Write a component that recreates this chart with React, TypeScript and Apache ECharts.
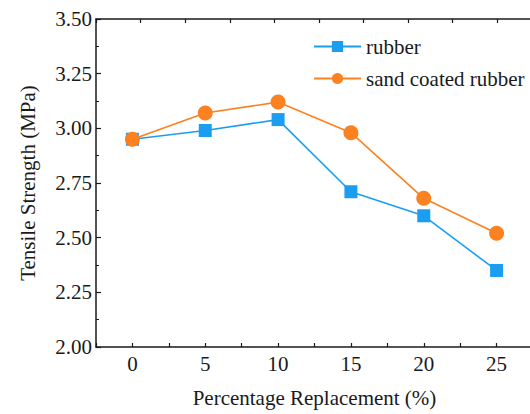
import React, { useEffect, useRef } from "react";
import * as echarts from "echarts";

const replacement = [0, 5, 10, 15, 20, 25];
const rubber = [2.95, 2.99, 3.04, 2.71, 2.6, 2.35];
const sandCoated = [2.95, 3.07, 3.12, 2.98, 2.68, 2.52];
const seriesNames = ["rubber", "sand coated rubber"];
const xTitle = "Percentage Replacement (%)";
const yTitle = "Tensile Strength (MPa)";

const FONT = "Liberation Serif, Times New Roman, serif";
const BLUE = "#1b9ef0";
const ORANGE = "#fb8121";
const INK = "#1a1a1a";

export default function App() {
  const ref = useRef<HTMLDivElement>(null);
  useEffect(() => {
    if (!ref.current) return;
    const chart = echarts.init(ref.current, undefined, { renderer: "svg" });
    const axisLine = { show: true, onZero: false, lineStyle: { color: INK, width: 1.5 } };
    chart.setOption({
      animation: false,
      backgroundColor: "#ffffff",
      textStyle: { fontFamily: FONT },
      grid: { left: 96, top: 19, right: 7, bottom: 67, containLabel: false },
      legend: {
        orient: "vertical",
        left: 313,
        top: 36,
        padding: 0,
        itemWidth: 47,
        itemHeight: 14,
        itemGap: 11,
        textStyle: { fontFamily: FONT, fontSize: 21, color: INK },
        data: seriesNames,
      },
      xAxis: [
        {
          type: "value",
          position: "bottom",
          min: -2.5,
          max: 27.5,
          interval: 2.5,
          axisLine,
          axisTick: { show: true, inside: true, length: 4, lineStyle: { color: INK, width: 1.2 } },
          splitLine: { show: false },
          axisLabel: {
            fontFamily: FONT,
            fontSize: 21,
            color: INK,
            margin: 6,
            formatter: (v: number) => (Math.abs(v % 5) < 1e-9 ? String(v) : ""),
          },
          name: xTitle,
          nameLocation: "middle",
          nameGap: 40,
          nameTextStyle: { fontFamily: FONT, fontSize: 21, color: INK },
        },
        {
          type: "value",
          position: "top",
          min: 0,
          max: 9.8,
          interval: 1,
          axisLine,
          axisTick: { show: true, inside: true, length: 4, lineStyle: { color: INK, width: 1.2 } },
          axisLabel: { show: false },
          splitLine: { show: false },
        },
      ],
      yAxis: [
        {
          type: "value",
          position: "left",
          min: 2,
          max: 3.5,
          interval: 0.25,
          axisLine,
          axisTick: { show: true, inside: true, length: 5, lineStyle: { color: INK, width: 1.2 } },
          minorTick: { show: true, splitNumber: 2, length: 3, lineStyle: { color: INK, width: 1 } },
          splitLine: { show: false },
          axisLabel: {
            fontFamily: FONT,
            fontSize: 21,
            color: INK,
            margin: 4,
            formatter: (v: number) => v.toFixed(2),
          },
          name: yTitle,
          nameLocation: "middle",
          nameGap: 58,
          nameTextStyle: { fontFamily: FONT, fontSize: 21, color: INK },
        },
        {
          type: "value",
          position: "right",
          min: 2,
          max: 3.5,
          axisLine,
          axisTick: { show: false },
          axisLabel: { show: false },
          splitLine: { show: false },
        },
      ],
      series: [
        {
          name: seriesNames[0],
          type: "line",
          xAxisIndex: 0,
          yAxisIndex: 0,
          data: replacement.map((x, i) => [x, rubber[i]]),
          symbol: "rect",
          symbolSize: 13,
          lineStyle: { color: BLUE, width: 1.6 },
          itemStyle: { color: BLUE },
          z: 2,
        },
        {
          name: seriesNames[1],
          type: "line",
          xAxisIndex: 0,
          yAxisIndex: 0,
          data: replacement.map((x, i) => [x, sandCoated[i]]),
          symbol: "circle",
          symbolSize: 15,
          lineStyle: { color: ORANGE, width: 1.6 },
          itemStyle: { color: ORANGE },
          z: 3,
        },
      ],
    });
    return () => chart.dispose();
  }, []);
  return (
    <div style={{ position: "fixed", left: 0, top: 0, width: 530, height: 414, overflow: "hidden", background: "#fff" }}>
      <div ref={ref} style={{ width: 540, height: 414 }} />
    </div>
  );
}
